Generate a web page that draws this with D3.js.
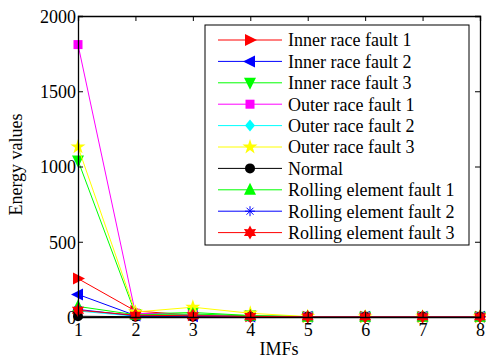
<!DOCTYPE html>
<html>
<head>
<meta charset="utf-8">
<script src="https://cdn.jsdelivr.net/npm/d3@7"></script>
</head>
<body style="margin:0">
<script>
// Data
var imfs = [1, 2, 3, 4, 5, 6, 7, 8];
var seriesNames = ["Inner race fault 1", "Inner race fault 2", "Inner race fault 3",
    "Outer race fault 1", "Outer race fault 2", "Outer race fault 3", "Normal",
    "Rolling element fault 1", "Rolling element fault 2", "Rolling element fault 3"];
var innerRace1 = [255, 40, 12, 5, 2, 1, 1, 1];
var innerRace2 = [150, 10, 5, 3, 1, 1, 1, 1];
var innerRace3 = [1040, 20, 30, 10, 2, 1, 1, 1];
var outerRace1 = [1810, 25, 15, 6, 2, 1, 1, 1];
var outerRace2 = [40, 5, 5, 3, 1, 1, 1, 1];
var outerRace3 = [1130, 33, 65, 25, 3, 1, 1, 1];
var normal = [5, 2, 2, 1, 1, 1, 1, 1];
var rolling1 = [70, 15, 20, 8, 2, 1, 1, 1];
var rolling2 = [50, 8, 6, 3, 1, 1, 1, 1];
var rolling3 = [45, 12, 8, 4, 1, 1, 1, 1];
var yTicks = [0, 500, 1000, 1500, 2000];

var allValues = [innerRace1, innerRace2, innerRace3, outerRace1, outerRace2,
    outerRace3, normal, rolling1, rolling2, rolling3];
var colors = ["#ff0000", "#0000ff", "#00ff00", "#ff00ff", "#00ffff",
    "#ffff00", "#000000", "#00ff00", "#0000ff", "#ff0000"];
var markers = ["triRight", "triLeft", "triDown", "square", "diamond",
    "star5", "circle", "triUp", "asterisk", "star6"];

var serif = '"Liberation Serif"';
var fontSize = 18;

var svgWidth = 486, svgHeight = 360;
var margin = { top: 16, right: 6, bottom: 43, left: 78 };
var width = svgWidth - margin.left - margin.right;
var height = svgHeight - margin.top - margin.bottom;

var svg = d3.select("body").append("svg")
    .attr("width", svgWidth)
    .attr("height", svgHeight);

var chartGroup = svg.append("g")
    .attr("transform", `translate(${margin.left}, ${margin.top})`);

var xScale = d3.scaleLinear().domain([1, 8]).range([0, width]);
var yScale = d3.scaleLinear().domain([0, 2000]).range([height, 0]);

// marker drawing
function drawMarker(g, type, color) {
    if (type === "triRight") {
        g.append("path").attr("d", "M-5,-6L7,0L-5,6Z").attr("fill", color);
    } else if (type === "triLeft") {
        g.append("path").attr("d", "M5,-6L-7,0L5,6Z").attr("fill", color);
    } else if (type === "triDown") {
        g.append("path").attr("d", "M-6,-5L6,-5L0,7Z").attr("fill", color);
    } else if (type === "triUp") {
        g.append("path").attr("d", "M-6,5L6,5L0,-7Z").attr("fill", color);
    } else if (type === "square") {
        g.append("rect").attr("x", -4.5).attr("y", -4.5).attr("width", 9).attr("height", 9).attr("fill", color);
    } else if (type === "diamond") {
        g.append("path").attr("d", "M0,-6L5,0L0,6L-5,0Z").attr("fill", color);
    } else if (type === "circle") {
        g.append("circle").attr("r", 5).attr("fill", color);
    } else if (type === "star5") {
        g.append("path").attr("d", d3.symbol().type(d3.symbolStar).size(70)()).attr("fill", color);
    } else if (type === "asterisk") {
        g.append("path").attr("d", "M-5,0L5,0M0,-5L0,5M-3.5,-3.5L3.5,3.5M-3.5,3.5L3.5,-3.5")
            .attr("stroke", color).attr("stroke-width", 1).attr("fill", "none");
    } else if (type === "star6") {
        var pts = [];
        for (var i = 0; i < 12; i++) {
            var r = i % 2 === 0 ? 7 : 4;
            var a = Math.PI / 6 * i - Math.PI / 2;
            pts.push([r * Math.cos(a), r * Math.sin(a)]);
        }
        g.append("path").attr("d", "M" + pts.join("L") + "Z").attr("fill", color);
    }
}

// Lines
var line = d3.line()
    .x((d, i) => xScale(imfs[i]))
    .y(d => yScale(d));

allValues.forEach((vals, s) => {
    chartGroup.append("path")
        .attr("d", line(vals))
        .attr("fill", "none")
        .attr("stroke", colors[s])
        .attr("stroke-width", 1);
    vals.forEach((v, i) => {
        var g = chartGroup.append("g")
            .attr("transform", `translate(${xScale(imfs[i])}, ${yScale(v)})`);
        drawMarker(g, markers[s], colors[s]);
    });
});

// Axes
var bottomAxis = d3.axisBottom(xScale).tickValues(imfs).tickSize(-5).tickPadding(6).tickFormat(d3.format("d"));
var leftAxis = d3.axisLeft(yScale).tickValues(yTicks).tickSize(-5).tickPadding(2).tickFormat(d3.format("d"));
var topAxis = d3.axisTop(xScale).tickValues(imfs).tickSize(-5).tickFormat("");
var rightAxis = d3.axisRight(yScale).tickValues(yTicks).tickSize(-5).tickFormat("");

function styleAxis(a) {
    a.select(".domain").attr("stroke", "#000").attr("stroke-width", 1.3);
    a.selectAll(".tick line").attr("stroke", "#000");
    a.selectAll("text")
        .attr("fill", "#000")
        .attr("font-size", fontSize)
        .style("font-family", serif);
}

var xAxis = chartGroup.append("g").attr("transform", `translate(0, ${height})`).call(bottomAxis);
styleAxis(xAxis);
var yAxis = chartGroup.append("g").call(leftAxis);
styleAxis(yAxis);
var tAxis = chartGroup.append("g").call(topAxis);
styleAxis(tAxis);
var rAxis = chartGroup.append("g").attr("transform", `translate(${width}, 0)`).call(rightAxis);
styleAxis(rAxis);
yAxis.selectAll("text").attr("dy", "0.35em");

// Axis labels
svg.append("text")
    .attr("x", margin.left + width / 2)
    .attr("y", 355)
    .attr("text-anchor", "middle")
    .attr("font-size", fontSize)
    .style("font-family", serif)
    .text("IMFs");

svg.append("text")
    .attr("transform", `translate(22, ${margin.top + height / 2 - 2}) rotate(-90)`)
    .attr("text-anchor", "middle")
    .attr("font-size", fontSize)
    .style("font-family", serif)
    .text("Energy values");

// Legend
var legend = svg.append("g").attr("transform", "translate(205, 25)");
legend.append("rect")
    .attr("width", 264).attr("height", 220)
    .attr("fill", "#fff").attr("stroke", "#000").attr("stroke-width", 1);

seriesNames.forEach((name, s) => {
    var yy = 15 + s * 21.4;
    legend.append("line")
        .attr("x1", 13).attr("x2", 77).attr("y1", yy).attr("y2", yy)
        .attr("stroke", colors[s]).attr("stroke-width", 1);
    var g = legend.append("g").attr("transform", `translate(45, ${yy})`);
    drawMarker(g, markers[s], colors[s]);
    legend.append("text")
        .attr("x", 83).attr("y", yy)
        .attr("dy", "0.35em")
        .attr("font-size", fontSize)
        .style("font-family", serif)
        .text(name);
});
</script>
</body>
</html>
